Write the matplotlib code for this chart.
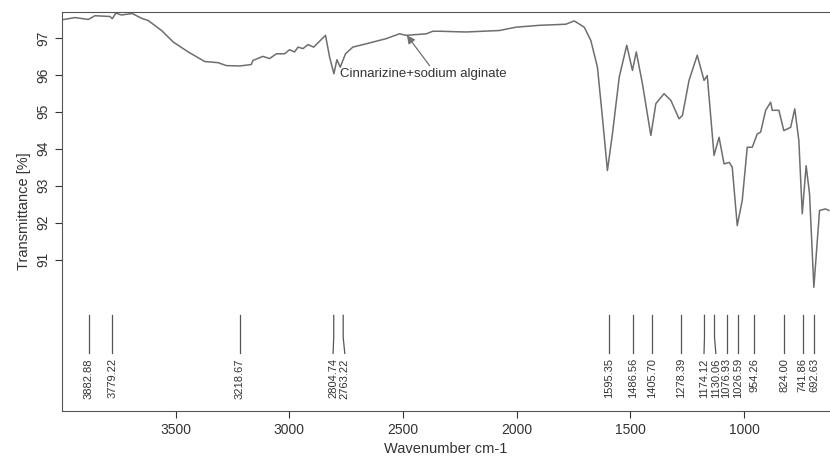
import matplotlib.pyplot as plt

plt.rcParams['font.family'] = ['Liberation Sans', 'DejaVu Sans']

# Spectrum (wavenumber cm-1, transmittance %)
wavenumber = [4000, 3943, 3884, 3855, 3789, 3779, 3763, 3738, 3691, 3650, 3621,
              3562, 3511, 3445, 3372, 3314, 3277, 3218, 3167, 3160, 3116, 3087,
              3057, 3021, 2999, 2977, 2962, 2940, 2918, 2893, 2867, 2841, 2823,
              2804, 2791, 2776, 2753, 2721, 2662, 2574, 2516, 2486, 2398, 2369,
              2340, 2223, 2076, 2003, 1901, 1784, 1747, 1703, 1674, 1645, 1623,
              1601, 1579, 1549, 1516, 1491, 1474, 1447, 1410, 1388, 1352, 1322,
              1286, 1271, 1242, 1206, 1176, 1162, 1132, 1110, 1088, 1065, 1052,
              1030, 1008, 986, 964, 942, 927, 905, 883, 876, 847, 825, 795, 777,
              759, 744, 727, 712, 693, 668, 642, 627]
transmittance = [97.49, 97.55, 97.50, 97.60, 97.58, 97.52, 97.67, 97.62, 97.66,
                 97.53, 97.47, 97.20, 96.89, 96.62, 96.36, 96.33, 96.25, 96.24,
                 96.28, 96.39, 96.50, 96.44, 96.57, 96.57, 96.68, 96.62, 96.75,
                 96.71, 96.82, 96.75, 96.91, 97.07, 96.48, 96.03, 96.41, 96.21,
                 96.57, 96.75, 96.84, 96.98, 97.11, 97.07, 97.11, 97.18, 97.18,
                 97.16, 97.20, 97.29, 97.34, 97.37, 97.46, 97.29, 96.93, 96.21,
                 94.85, 93.41, 94.40, 95.94, 96.80, 96.12, 96.62, 95.76, 94.36,
                 95.22, 95.49, 95.31, 94.81, 94.90, 95.85, 96.53, 95.85, 95.98,
                 93.82, 94.31, 93.59, 93.63, 93.50, 91.92, 92.60, 94.04, 94.04,
                 94.40, 94.45, 95.04, 95.26, 95.04, 95.04, 94.49, 94.58, 95.08,
                 94.22, 92.24, 93.54, 92.78, 90.25, 92.33, 92.37, 92.33]

peaks = [3882.88, 3779.22, 3218.67, 2804.74, 2763.22, 1595.35, 1486.56, 1405.70,
         1278.39, 1174.12, 1130.06, 1076.93, 1026.59, 954.26, 824.00, 741.86, 692.63]
# small sideways shift of crowded labels (cm-1)
label_shift = [0, 0, 0, 3, -7, 0, 0, 0, 0, 2, -6, 0, 0, 0, 0, 0, 0]

y_ticks = [91, 92, 93, 94, 95, 96, 97]
x_ticks = [3500, 3000, 2500, 2000, 1500, 1000]

fig = plt.figure(figsize=(8.3, 4.72), dpi=100)
ax = fig.add_axes([0.0747, 0.1292, 0.9253, 0.8453])

ax.plot(wavenumber, transmittance, color='#6e6e6e', lw=1.1)

# peak markers and labels
for p, d in zip(peaks, label_shift):
    ax.plot([p, p, p + d], [89.49, 88.9, 88.46], color='#555555', lw=0.9)
    ax.text(p + d, 88.33, f'{p:.2f}', rotation=90, ha='center', va='top',
            fontsize=8, color='#333333')

ax.annotate('Cinnarizine+sodium alginate', xy=(2483, 97.07), xytext=(2777, 96.01),
            fontsize=9.5, color='#333333', va='center',
            arrowprops=dict(arrowstyle='-|>', color='#707070', lw=0.9,
                            shrinkA=0, shrinkB=0, mutation_scale=12,
                            relpos=(0.55, 1.0)))

ax.set_xlim(4000, 622)
ax.set_ylim(86.9, 97.7)
ax.set_xticks(x_ticks)
ax.set_yticks(y_ticks)
ax.tick_params(axis='y', labelrotation=90, labelsize=10, colors='#333333', length=5)
ax.tick_params(axis='x', labelsize=10, colors='#333333', length=5)
for lab in ax.get_yticklabels():
    lab.set_va('center')

ax.spines['right'].set_visible(False)
for s in ['left', 'top', 'bottom']:
    ax.spines[s].set_color('#555555')

ax.set_ylabel('Transmittance [%]', fontsize=10.5, color='#333333')
ax.set_xlabel('Wavenumber cm-1', fontsize=10.5, color='#333333')

fig.savefig('out.png', dpi=100)
